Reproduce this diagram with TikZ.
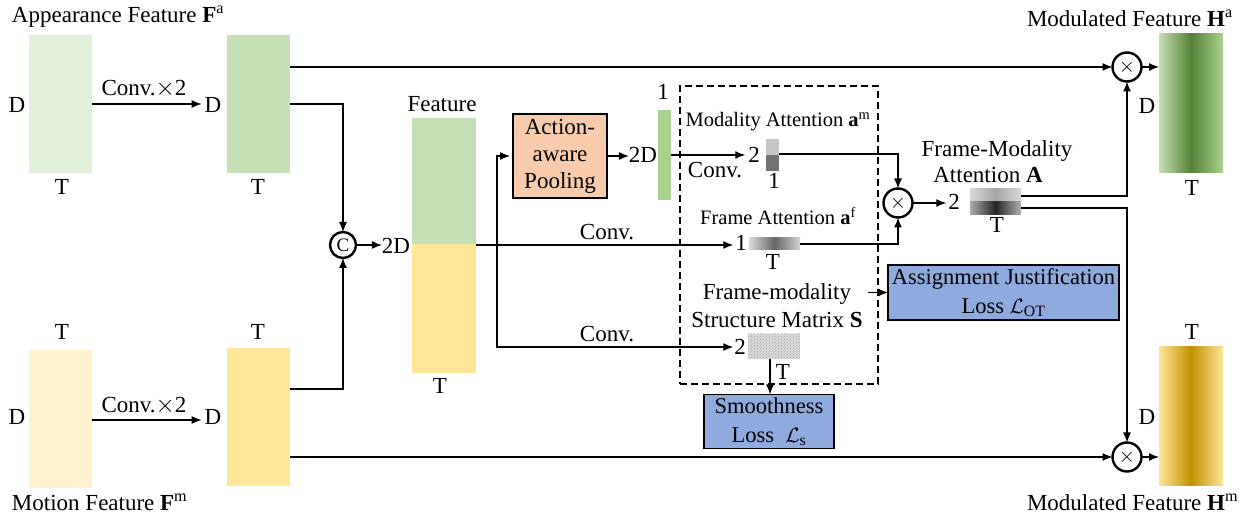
\documentclass[tikz,border=0pt]{standalone}
\usepackage{fontspec}
\setmainfont{Liberation Serif}
\usetikzlibrary{arrows.meta,patterns}
\definecolor{ga}{HTML}{E2EFD9}
\definecolor{gb}{HTML}{C5E0B4}
\definecolor{gc}{HTML}{A9D18E}
\definecolor{gd}{HTML}{548235}
\definecolor{ya}{HTML}{FFF2CC}
\definecolor{yb}{HTML}{FFE699}
\definecolor{yd}{HTML}{BF9000}
\definecolor{orng}{HTML}{F8CBAD}
\definecolor{blu}{HTML}{8FAADC}
\begin{document}
\begin{tikzpicture}[x=1pt,y=-1pt,
  every node/.style={inner sep=0pt,outer sep=0pt},
  lbl/.style={font=\fontsize{23}{27}\selectfont,anchor=base},
  sml/.style={font=\fontsize{20.5}{24}\selectfont,anchor=base},
  feat/.style={minimum width=63pt,minimum height=138pt},
  lossbox/.style={draw,line width=1.3pt,fill=blu,align=center,font=\fontsize{22.5}{29}\selectfont},
  conn/.style={line width=1.3pt},
  arr/.style={line width=1.3pt,-{Latex[length=10pt,width=8pt]}},
  mulc/.style={circle,draw,line width=2.4pt,minimum size=29pt,font=\fontsize{22}{22}\selectfont},
]
\useasboundingbox (0,0) rectangle (1251,518);

% ---------- input features ----------
\node[feat,fill=ga] (a1) at (60.5,104) {};
\node[feat,fill=gb] (a2) at (258.5,104) {};
\node[feat,fill=ya] (m1) at (60.5,419) {};
\node[feat,fill=yb] (m2) at (258.5,417) {};

\node[lbl,anchor=base west] (tA) at (12,23) {Appearance Feature {\bfseries F}\textsuperscript{a}};
\node[lbl,anchor=base west] (tM) at (12,511) {Motion Feature {\bfseries F}\textsuperscript{m}};

\node[lbl] (Da1) at (17,113) {D};
\node[lbl] (Da2) at (213,113) {D};
\node[lbl] (Ta1) at (62,195) {T};
\node[lbl] (Ta2) at (258,195) {T};
\node[lbl] (Tm1) at (62,340) {T};
\node[lbl] (Tm2) at (258,340) {T};
\node[lbl] (Dm1) at (17,425) {D};
\node[lbl] (Dm2) at (213,425) {D};
\node[lbl] (cva) at (144,96) {Conv.$\times$2};
\node[lbl] (cvm) at (144,413) {Conv.$\times$2};

\draw[arr] (a1.east) -- ([xshift=-3pt]Da2.west |- a1.east);
\draw[arr] (m1.east |- 0,420) -- ([xshift=-3pt]Dm2.west |- 0,420);

% ---------- concatenation ----------
\node[mulc,minimum size=26pt,font=\fontsize{19}{19}\selectfont] (cat) at (343,245) {C};
\draw[arr] (a2.east) -| (cat.north);
\draw[arr] ([yshift=28pt]m2.east) -| (cat.south);
\node[lbl] (twoD) at (396,254) {2D};
\draw[arr] (cat.east) -- (twoD.west |- cat.east);

\node[minimum width=64pt,minimum height=126pt,fill=gb] (fg) at (443.5,181) {};
\node[minimum width=64pt,minimum height=129pt,fill=yb] (fy) at (443.5,308.5) {};
\node[lbl] (tF) at (442,112) {Feature};
\node[lbl] (tFT) at (440,394) {T};

% ---------- pooling branch ----------
\node[draw,line width=1.3pt,fill=orng,minimum width=94pt,minimum height=84pt,align=center,
      font=\fontsize{23}{27}\selectfont] (aap) at (560,156) {Action-\\aware\\Pooling};
\node[lbl] (twoD2) at (643,163) {2D};
\draw[arr] (aap.east) -- (twoD2.west |- aap.east);
\node[minimum width=13pt,minimum height=90pt,fill=gc] (gbar) at (664.5,155) {};
\node[lbl] (oneg) at (663,100) {1};

% ---------- dashed box ----------
\node[draw,dash pattern=on 7pt off 4pt,line width=1.3pt,minimum width=198pt,minimum height=298pt] (dbox) at (779,235) {};

% modality attention
\node[sml] (tam) at (778,127) {Modality Attention {\bfseries a}\textsuperscript{m}};
\fill[gray!45] (766,139) rectangle (779,155);
\fill[black!55] (766,155) rectangle (779,171);
\node[minimum width=13pt,minimum height=32pt] (mbar) at (772.5,155) {};
\node[lbl] (twom) at (754,163) {2};
\node[lbl] (onem) at (774,189) {1};
\node[lbl] (cvg) at (715,178) {Conv.};
\draw[arr] (gbar.east) -- ([xshift=-3pt]twom.west |- gbar.east);

% frame attention
\node[sml] (taf) at (778,225) {Frame Attention {\bfseries a}\textsuperscript{f}};
\node[minimum width=51pt,minimum height=12pt,left color=gray!30,right color=gray!35,middle color=black!60] (fbar) at (774.5,244) {};
\node[lbl] (onef) at (741,251) {1};
\node[lbl] (Tf) at (773,270) {T};

% structure matrix
\node[lbl] (tS1) at (777,300) {Frame-modality};
\node[lbl] (tS2) at (777,328) {Structure Matrix {\bfseries S}};
\node[minimum width=52pt,minimum height=25pt,fill=gray!30,
      postaction={pattern=crosshatch dots,pattern color=gray!70}] (smat) at (774,346.5) {};
\node[lbl] (twos) at (740,355) {2};
\node[lbl] (Ts) at (783,380) {T};

% Feature branches
\coordinate (fo) at (476,245);
\coordinate (br) at (497,245);
\draw[arr] (fo) -- ([xshift=-2pt]onef.west |- fo);
\node[lbl] (cvf) at (607,240) {Conv.};
\draw[arr] (br) |- ([xshift=-3pt]aap.west);
\draw[arr] (br) |- ([xshift=-1pt]twos.west |- 0,347);
\node[lbl] (cvs) at (607,342) {Conv.};

% ---------- losses ----------
\node[lossbox,minimum width=130pt,minimum height=54pt] (smooth) at (769,421.5) {Smoothness\\Loss\ \ $\mathcal{L}_{\mathrm{s}}$};
\draw[arr] ([xshift=-4pt]smat.south) -- ([xshift=-4pt]smat.south |- smooth.north);
\node[lossbox,minimum width=231pt,minimum height=55pt] (assign) at (1003.5,292.5) {Assignment Justification\\Loss $\mathcal{L}_{\mathrm{OT}}$};
\coordinate (sa) at (868,292.5);
\draw[arr] (sa) -- (assign.west);

% ---------- frame-modality attention ----------
\node[mulc] (mul1) at (898,203) {$\times$};
\draw[arr] (mbar.east |- 0,154) -| (mul1.north);
\draw[arr] (fbar.east) -| (mul1.south);
\node[lbl] (twoA) at (954,210) {2};
\draw[arr] (mul1.east) -- ([xshift=-2pt]twoA.west |- mul1.east);
\shade[left color=gray!30,right color=gray!30,middle color=gray!70] (970,189) rectangle (1021,202);
\shade[left color=gray!65,right color=gray!60,middle color=black!85] (970,202) rectangle (1021,215);
\node[minimum width=51pt,minimum height=26pt] (Amat) at (995.5,202) {};
\node[lbl] (TA) at (997,233) {T};
\node[lbl] (tA1) at (997,157) {Frame-Modality};
\node[lbl] (tA2) at (988,183) {Attention {\bfseries A}};

% ---------- modulation ----------
\node[mulc] (mulA) at (1127,67) {$\times$};
\node[mulc] (mulM) at (1127,457) {$\times$};
\draw[arr] (a2.east |- mulA.west) -- (mulA.west);
\draw[arr] ([yshift=-40pt]m2.east) -- (mulM.west);
\draw[arr] ([yshift=6pt]Amat.east) -| (mulA.south);
\draw[arr] ([yshift=-6pt]Amat.east) -| (mulM.north);

\node[feat,minimum width=64pt,minimum height=139pt,left color=gb,right color=gc,middle color=gd] (Ha) at (1191,103.5) {};
\node[feat,minimum width=64pt,minimum height=139pt,left color=yb,right color=yb,middle color=yd] (Hm) at (1191,416.5) {};
\draw[arr] (mulA.east) -- (Ha.west |- mulA.east);
\draw[arr] (mulM.east) -- (Hm.west |- mulM.east);
\node[lbl] (DHa) at (1147,114) {D};
\node[lbl] (THa) at (1192,196) {T};
\node[lbl] (THm) at (1192,340) {T};
\node[lbl] (DHm) at (1147,425) {D};
\node[lbl,anchor=base west] (tHa) at (1027,27) {Modulated Feature {\bfseries H}\textsuperscript{a}};
\node[lbl,anchor=base west] (tHm) at (1027,511) {Modulated Feature {\bfseries H}\textsuperscript{m}};
\end{tikzpicture}
\end{document}
